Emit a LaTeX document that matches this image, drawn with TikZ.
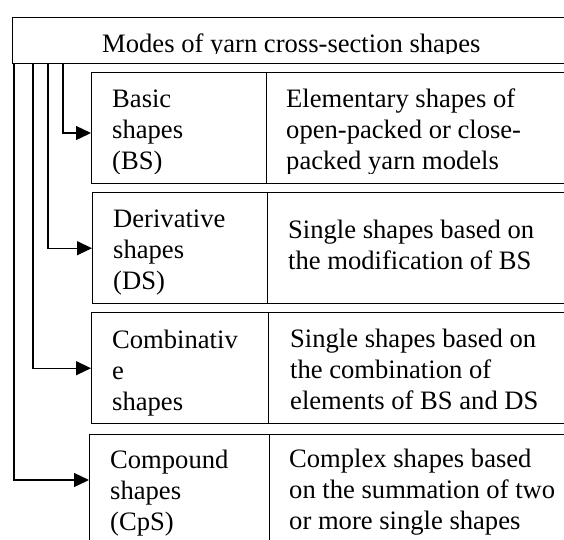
\documentclass[tikz,border=0pt]{standalone}
\usepackage{fontspec}
\setmainfont{Liberation Serif}
\usetikzlibrary{arrows.meta}
\begin{document}
\begin{tikzpicture}[x=1pt,y=-1pt,
  cell/.style={draw, line width=1.4pt, anchor=north west, inner sep=0pt, minimum height=111pt},
  % multi-line text: the base anchor sits on the last line's baseline
  txt/.style={anchor=base west, align=left, inner sep=0pt, font=\fontsize{26.6}{31}\selectfont},
  conn/.style={draw, line width=1.4pt, -{Triangle[length=15pt,width=14pt]}}]
\useasboundingbox (0,0) rectangle (564,539);
\clip (0,0) rectangle (564,539);

% header box
\node[cell, minimum width=580pt, minimum height=46pt] (title) at (12,17) {};

% category rows: name cell + description cell
\node[cell, minimum width=175pt] (bsL) at (91,72) {};
\node[cell, minimum width=320pt] (bsR) at (266,72) {};
\node[cell, minimum width=175pt] (dsL) at (92,192) {};
\node[cell, minimum width=320pt] (dsR) at (267,192) {};
\node[cell, minimum width=177pt] (cbL) at (91,312) {};
\node[cell, minimum width=320pt] (cbR) at (268,312) {};
\node[cell, minimum width=180pt, minimum height=140pt] (cpL) at (89,434) {};
\node[cell, minimum width=320pt, minimum height=140pt] (cpR) at (269,434) {};

% header text (frame cuts off the descenders)
\begin{scope}
  \clip (0,0) rectangle (564,53.5);
  \node[txt] (ttl) at (102,52) {Modes of yarn cross-section shapes};
\end{scope}

% basic shapes row (frame cuts off the last line)
\begin{scope}
  \clip (0,72) rectangle (564,173);
  \node[txt] (bsA) at (112,169) {Basic\\shapes\\(BS)};
  \node[txt] (bsB) at (286,169) {Elementary shapes of\\open-packed or close-\\packed yarn models};
\end{scope}

\node[txt] (dsA) at (113,289) {Derivative\\shapes\\(DS)};
\node[txt] (dsB) at (288,269) {Single shapes based on\\the modification of BS};

\node[txt] (cbA) at (112,410) {Combinativ\\e\\shapes};
\node[txt] (cbB) at (290,409) {Single shapes based on\\the combination of\\elements of BS and DS};

\node[txt] (cpA) at (110,530) {Compound\\shapes\\(CpS)};
\node[txt] (cpB) at (289,529) {Complex shapes based\\on the summation of two\\or more single shapes};

% branch connectors from the header
\draw[conn] ([xshift=2pt]title.south west) |- ([yshift=-46pt]cpL.north west);
\draw[conn] ([xshift=21pt]title.south west) |- (cbL.west);
\draw[conn] ([xshift=36pt]title.south west) |- (dsL.west);
\draw[conn] ([xshift=51pt]title.south west) |- ([yshift=-61pt]bsL.north west);
\end{tikzpicture}
\end{document}
